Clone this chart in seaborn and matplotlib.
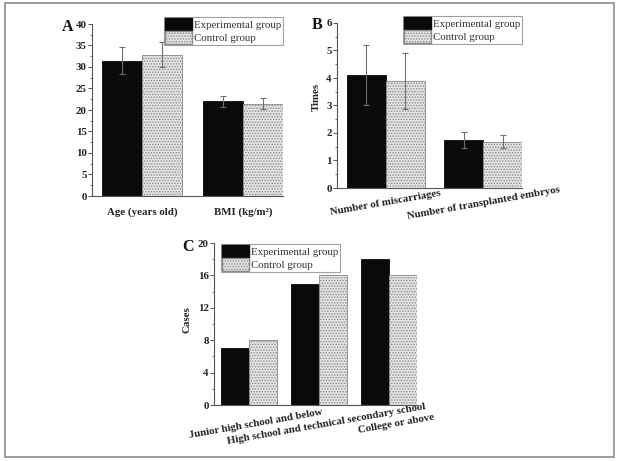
import numpy as np
import pandas as pd
import matplotlib
matplotlib.use("Agg")
import matplotlib.pyplot as plt
import matplotlib.transforms as mtransforms
from matplotlib.patches import Rectangle, Patch
from matplotlib.ticker import MultipleLocator
import seaborn as sns

groups = ["Experimental group", "Control group"]

a_categories = ["Age (years old)", "BMI (kg/m\u00b2)"]
a_exp = [31.5, 22.0]
a_ctrl = [32.9, 21.5]
a_exp_err = [3.1, 1.3]
a_ctrl_err = [2.9, 1.2]

b_categories = ["Number of miscarriages", "Number of transplanted embryos"]
b_exp = [4.11, 1.74]
b_ctrl = [3.89, 1.69]
b_exp_err = [1.1, 0.28]
b_ctrl_err = [1.02, 0.25]

c_categories = ["Junior high school and below",
                "High school and technical secondary school",
                "College or above"]
c_exp = [7, 15, 18]
c_ctrl = [8, 16, 16]

sns.set_theme(style="ticks")
plt.rcParams["font.family"] = ["Liberation Serif", "DejaVu Serif"]
plt.rcParams["hatch.linewidth"] = 0.7
plt.rcParams["axes.edgecolor"] = "#555555"

EXP_COLOR = "#0a0a0a"
CTRL_COLOR = "#e4e4e4"
CTRL_EDGE = "#8a8a8a"
HATCH = "......"
TXT = "#222222"


def make_df(cats, exp, ctrl):
    return pd.DataFrame({
        "category": cats * 2,
        "group": [groups[0]] * len(cats) + [groups[1]] * len(cats),
        "value": list(exp) + list(ctrl),
    })


def style_bars(ax, ncat):
    patches = [p for p in ax.patches if isinstance(p, Rectangle)][: 2 * ncat]
    for i, p in enumerate(patches):
        if i < ncat:
            p.set_facecolor(EXP_COLOR)
            p.set_edgecolor(EXP_COLOR)
        else:
            p.set_facecolor(CTRL_COLOR)
            p.set_edgecolor(CTRL_EDGE)
            p.set_hatch(HATCH)
        p.set_linewidth(0.6)
    return patches


def add_err(ax, patches, errs):
    for p, e in zip(patches, errs):
        ax.errorbar(p.get_x() + p.get_width() / 2, p.get_height(), yerr=e,
                    fmt="none", ecolor="#6f6f6f", elinewidth=0.8,
                    capsize=2.5, capthick=0.8, zorder=3)


def add_legend(ax, anchor):
    handles = [Patch(facecolor=EXP_COLOR, edgecolor=EXP_COLOR),
               Patch(facecolor=CTRL_COLOR, edgecolor=CTRL_EDGE, hatch=HATCH)]
    leg = ax.legend(handles, groups, loc="upper right", bbox_to_anchor=anchor,
                    bbox_transform=ax.figure.transFigure,
                    frameon=True, fancybox=False, fontsize=7.8,
                    handlelength=2.5, handleheight=1.45, handletextpad=0.2,
                    labelspacing=0.0, borderpad=0.12, borderaxespad=0.0)
    leg.get_frame().set_edgecolor("#8a8a8a")
    leg.get_frame().set_linewidth(0.8)
    for t in leg.get_texts():
        t.set_color("#333333")


def style_axis(ax, major, minor, xpad, rot, dx_pt=0.0):
    sns.despine(ax=ax)
    ax.yaxis.set_major_locator(MultipleLocator(major))
    ax.yaxis.set_minor_locator(MultipleLocator(minor))
    ax.tick_params(axis="y", which="major", direction="out", length=2.8,
                   width=0.7, labelsize=7.8, pad=1.0, color="#555555")
    ax.tick_params(axis="y", which="minor", direction="out", length=1.6,
                   width=0.6, color="#555555")
    ax.tick_params(axis="x", length=0, labelsize=7.8, pad=xpad)
    for sp in ax.spines.values():
        sp.set_linewidth(0.8)
    for lab in ax.get_yticklabels():
        lab.set_fontweight("bold")
        lab.set_color(TXT)
    for lab in ax.get_xticklabels():
        lab.set_fontweight("bold")
        lab.set_color(TXT)
        lab.set_rotation(rot)
        lab.set_ha("center")
        lab.set_va("center")
        lab.set_rotation_mode("anchor")
        if dx_pt:
            lab.set_transform(lab.get_transform() + mtransforms.ScaledTranslation(
                dx_pt / 72, 0, ax.figure.dpi_scale_trans))
    ax.set_xlabel("")
    ax.set_ylabel("")


fig = plt.figure(figsize=(6.2, 4.61), dpi=100)
W, H = 620, 461


def axes_px(x0, x1, y0, y1):
    return fig.add_axes([x0 / W, 1 - y1 / H, (x1 - x0) / W, (y1 - y0) / H])


# Panel A
axA = axes_px(92, 283, 24, 196)
sns.barplot(data=make_df(a_categories, a_exp, a_ctrl), x="category", y="value",
            hue="group", hue_order=groups, width=0.8, ax=axA, legend=False,
            errorbar=None, zorder=2)
pA = style_bars(axA, 2)
add_err(axA, pA, a_exp_err + a_ctrl_err)
axA.set_ylim(0, 40)
axA.set_xlim(-0.5, 1.4)
style_axis(axA, 5, 2.5, xpad=11.5, rot=0)
add_legend(axA, (283 / W, 1 - 17 / H))

# Panel B
axB = axes_px(337, 522, 23, 188)
sns.barplot(data=make_df(b_categories, b_exp, b_ctrl), x="category", y="value",
            hue="group", hue_order=groups, width=0.8, ax=axB, legend=False,
            errorbar=None, zorder=2)
pB = style_bars(axB, 2)
add_err(axB, pB, b_exp_err + b_ctrl_err)
axB.set_ylim(0, 6)
axB.set_xlim(-0.5, 1.4)
style_axis(axB, 1, 0.5, xpad=10.8, rot=10)
add_legend(axB, (522 / W, 1 - 16 / H))

# Panel C
axC = axes_px(214, 417, 243, 405)
sns.barplot(data=make_df(c_categories, c_exp, c_ctrl), x="category", y="value",
            hue="group", hue_order=groups, width=0.8, ax=axC, legend=False,
            errorbar=None, zorder=2)
style_bars(axC, 3)
axC.set_ylim(0, 20)
axC.set_xlim(-0.5, 2.4)
style_axis(axC, 4, 2, xpad=13.7, rot=10, dx_pt=5.0)
add_legend(axC, (340 / W, 1 - 244 / H))

# y labels
fig.text(316 / W, 1 - 97 / H, "Times", rotation=90, ha="center", va="center",
         fontsize=7.8, fontweight="bold", color=TXT)
fig.text(187 / W, 1 - 320 / H, "Cases", rotation=90, ha="center", va="center",
         fontsize=7.8, fontweight="bold", color=TXT)

# panel letters
for letter, (px, py) in zip(["A", "B", "C"], [(68, 27), (317, 25), (188, 247)]):
    fig.text(px / W, 1 - py / H, letter, ha="center", va="center",
             fontsize=11.5, fontweight="bold", color="#111111")

# figure frame
fig.patches.append(Rectangle((5 / W, 1 - 457 / H), 609 / W, 454 / H,
                             transform=fig.transFigure, fill=False,
                             edgecolor="#8c8c8c", linewidth=1.2))

fig.savefig("out.png", dpi=100)
